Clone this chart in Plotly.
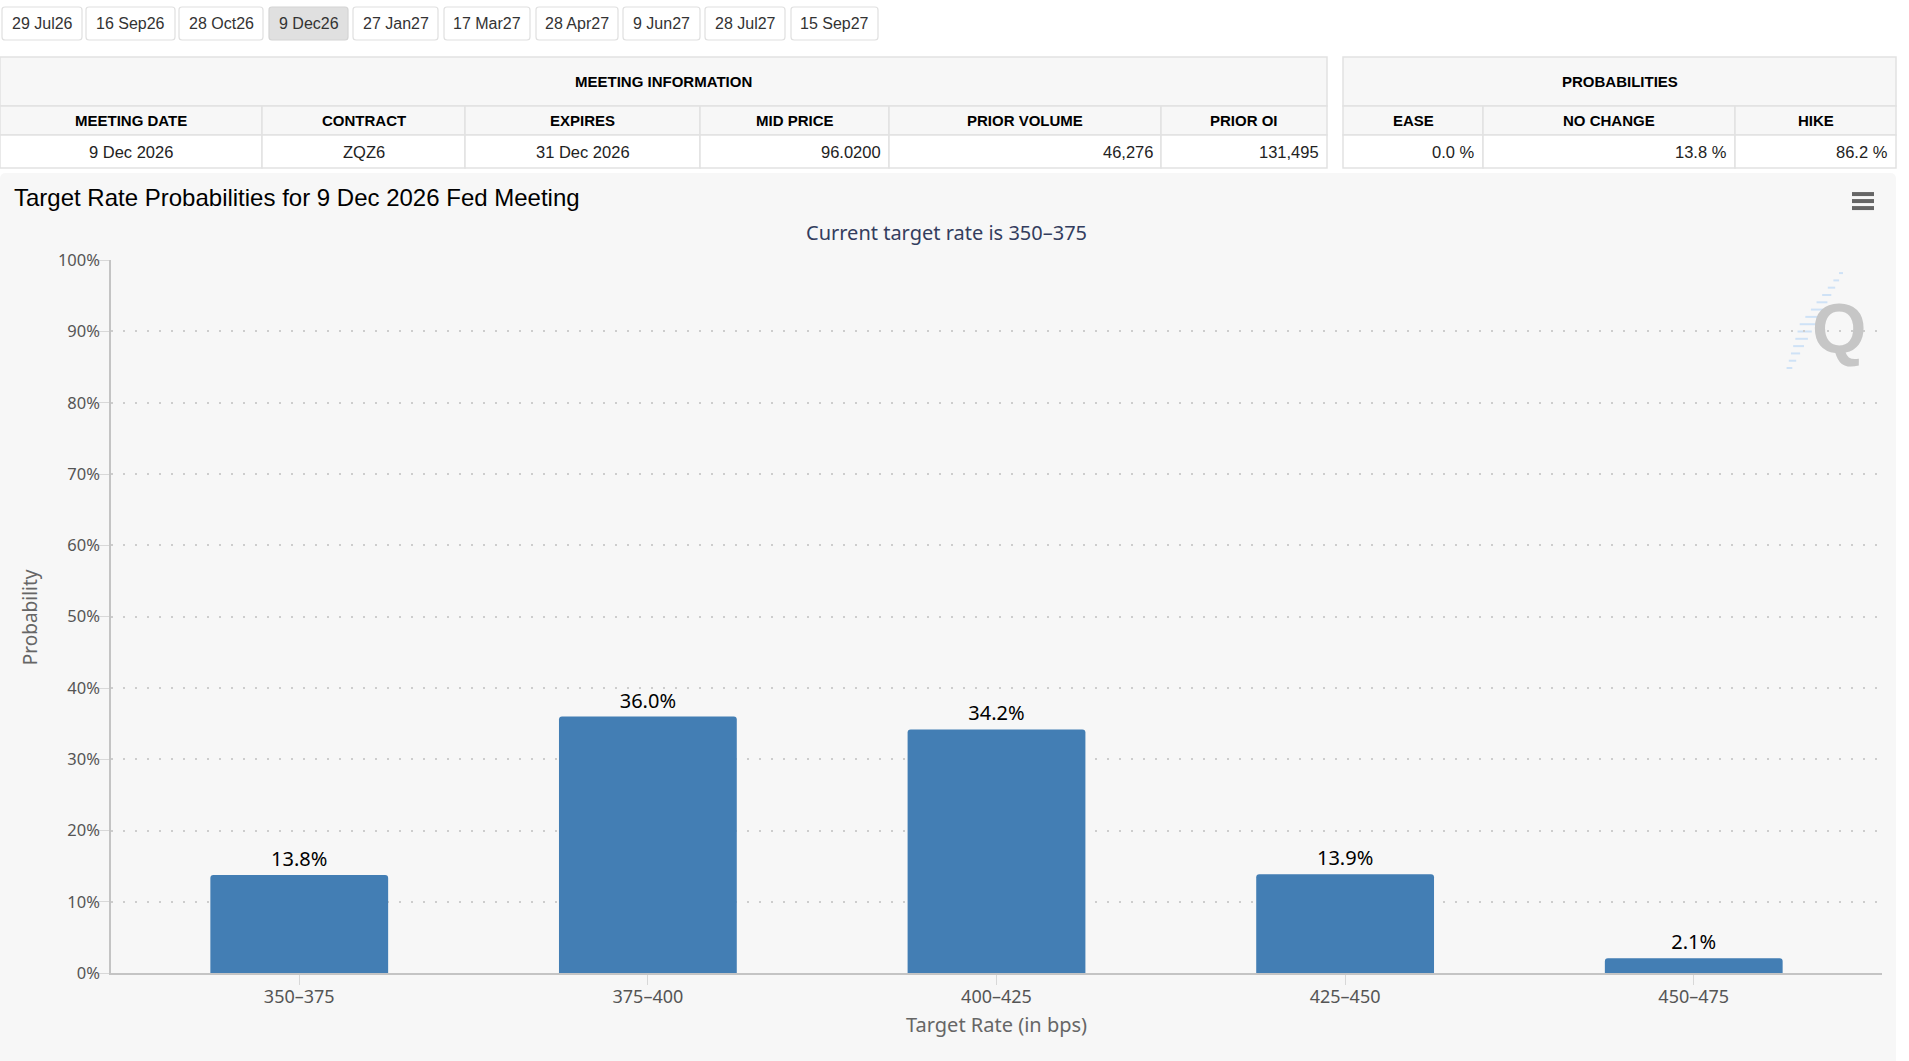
import plotly.graph_objects as go

# meeting tabs
tab_dates = ["29 Jul26", "16 Sep26", "28 Oct26", "9 Dec26", "27 Jan27",
             "17 Mar27", "28 Apr27", "9 Jun27", "28 Jul27", "15 Sep27"]
selected_tab = "9 Dec26"

# meeting information table
meeting_title = "MEETING INFORMATION"
meeting_cols = ["MEETING DATE", "CONTRACT", "EXPIRES", "MID PRICE", "PRIOR VOLUME", "PRIOR OI"]
meeting_vals = ["9 Dec 2026", "ZQZ6", "31 Dec 2026", "96.0200", "46,276", "131,495"]

# probabilities table
prob_title = "PROBABILITIES"
prob_cols = ["EASE", "NO CHANGE", "HIKE"]
prob_vals = [0.0, 13.8, 86.2]

# chart data
chart_title = "Target Rate Probabilities for 9 Dec 2026 Fed Meeting"
chart_subtitle = "Current target rate is 350–375"
target_rates = ["350–375", "375–400", "400–425", "425–450", "450–475"]
probabilities = [13.8, 36.0, 34.2, 13.9, 2.1]
y_ticks = [0, 10, 20, 30, 40, 50, 60, 70, 80, 90, 100]

# page layout, in pixels of the screenshot
W, H = 1909, 1061
Y_SCALE, Y_SHIFT = 0.978, 11.0   # how the capture maps page rows to picture rows
tab_x = [(2, 82), (86, 175), (179, 263), (269, 348), (353, 438),
         (444, 530), (536, 618), (623, 700), (705, 785), (791, 878)]
tab_y = (6, 39)
meet_x = [0, 262, 465, 700, 889, 1161, 1327]
meet_align = ["center", "center", "center", "right", "right", "right"]
prob_x = [1343, 1483, 1735, 1896]
row_y = [56, 105, 134, 167]
plot_l, plot_r, plot_t, plot_b = 111, 1882, 259, 972

TABLE_FONT = "Liberation Sans, Arial, sans-serif"
CHART_FONT = "Noto Sans, DejaVu Sans, sans-serif"
BORDER = "#e2e2e2"


def fx(p):
    return p / W


def fy(p):
    return 1 - ((p - Y_SHIFT) / Y_SCALE) / H


def label(x, y, text, font, xanchor="center", **kw):
    return dict(x=fx(x), y=fy(y), xref="paper", yref="paper", text=text,
                showarrow=False, xanchor=xanchor, yanchor="middle", font=font, **kw)


def rounded_rect(x0, y0, x1, y1, r):
    a, b, c, d = fx(x0), fx(x1), fy(y0), fy(y1)
    rx, ry = r / W, r / H
    return (f"M{a + rx},{c} L{b - rx},{c} Q{b},{c} {b},{c - ry} "
            f"L{b},{d + ry} Q{b},{d} {b - rx},{d} L{a + rx},{d} "
            f"Q{a},{d} {a},{d + ry} L{a},{c - ry} Q{a},{c} {a + rx},{c} Z")


shapes = []
annotations = []

# chart panel background
shapes.append(dict(type="path", xref="paper", yref="paper", layer="below",
                   path=rounded_rect(0, 172, 1896, 1090, 6),
                   fillcolor="#f7f7f7", line=dict(width=0)))

# tabs
for (x0, x1), name in zip(tab_x, tab_dates):
    sel = name == selected_tab
    shapes.append(dict(type="path", xref="paper", yref="paper", layer="below",
                       path=rounded_rect(x0, tab_y[0], x1, tab_y[1], 3),
                       fillcolor="#e0e0e0" if sel else "#ffffff",
                       line=dict(color="#d4d4d4" if sel else "#e0e0e0", width=1.2)))
    annotations.append(label((x0 + x1) / 2, (tab_y[0] + tab_y[1]) / 2, name,
                             dict(family=TABLE_FONT, size=16, color="#333333")))


def add_table(xs, title, cols, vals, aligns):
    shapes.append(dict(type="rect", xref="paper", yref="paper", layer="below",
                       x0=fx(xs[0]), x1=fx(xs[-1]), y0=fy(row_y[0]), y1=fy(row_y[1]),
                       fillcolor="#f7f7f7", line=dict(color=BORDER, width=1.5)))
    annotations.append(label((xs[0] + xs[-1]) / 2, (row_y[0] + row_y[1]) / 2,
                             f"<b>{title}</b>",
                             dict(family=TABLE_FONT, size=15, color="#000000")))
    for i, (c, v) in enumerate(zip(cols, vals)):
        x0, x1 = xs[i], xs[i + 1]
        shapes.append(dict(type="rect", xref="paper", yref="paper", layer="below",
                           x0=fx(x0), x1=fx(x1), y0=fy(row_y[1]), y1=fy(row_y[2]),
                           fillcolor="#f7f7f7", line=dict(color=BORDER, width=1.5)))
        shapes.append(dict(type="rect", xref="paper", yref="paper", layer="below",
                           x0=fx(x0), x1=fx(x1), y0=fy(row_y[2]), y1=fy(row_y[3]),
                           fillcolor="#ffffff", line=dict(color=BORDER, width=1.5)))
        annotations.append(label((x0 + x1) / 2, (row_y[1] + row_y[2]) / 2, f"<b>{c}</b>",
                                 dict(family=TABLE_FONT, size=15, color="#000000")))
        if aligns[i] == "right":
            annotations.append(label(x1 - 6, (row_y[2] + row_y[3]) / 2, v,
                                     dict(family=TABLE_FONT, size=16.5, color="#222222"),
                                     xanchor="right"))
        else:
            annotations.append(label((x0 + x1) / 2, (row_y[2] + row_y[3]) / 2, v,
                                     dict(family=TABLE_FONT, size=16.5, color="#222222")))


add_table(meet_x, meeting_title, meeting_cols, meeting_vals, meet_align)
add_table(prob_x, prob_title, prob_cols, [f"{p:.1f} %" for p in prob_vals],
          ["right"] * len(prob_cols))

# chart title / subtitle
annotations.append(label(12, 196, chart_title,
                         dict(family=TABLE_FONT, size=24, color="#000000"), xanchor="left"))
annotations.append(label(946, 231, chart_subtitle,
                         dict(family=CHART_FONT, size=20, color="#333d5e")))

# axis titles
annotations.append(label(30, 616, "Probability",
                         dict(family=CHART_FONT, size=19, color="#666666"), textangle=-90))
annotations.append(label(996, 1023, "Target Rate (in bps)",
                         dict(family=CHART_FONT, size=20, color="#666666")))

# menu icon
for yy in (193, 200, 207):
    shapes.append(dict(type="line", xref="paper", yref="paper",
                       x0=fx(1852), x1=fx(1874), y0=fy(yy), y1=fy(yy),
                       line=dict(color="#666666", width=4)))

# watermark
for k in range(14):
    yy = 272 + k * 7.3
    xr = 1843 - k * 3.9
    ln = 4 + 12 * (1 - abs(k - 7) / 7)
    shapes.append(dict(type="line", xref="paper", yref="paper", layer="below",
                       x0=fx(xr - ln), x1=fx(xr), y0=fy(yy), y1=fy(yy),
                       line=dict(color="#cfe2f6", width=2)))
annotations.append(label(1839, 328, "<b>Q</b>",
                         dict(family=TABLE_FONT, size=70, color="#c6c6c6")))

fig = go.Figure()
fig.add_bar(
    x=target_rates, y=probabilities,
    width=0.51,
    marker=dict(color="#437eb4", line=dict(width=0), cornerradius=3),
    text=[f"{p:.1f}%" for p in probabilities],
    textposition="outside",
    textfont=dict(family=CHART_FONT, size=20, color="#000000"),
    cliponaxis=False,
    hoverinfo="x+y",
)

fig.update_layout(
    width=W, height=H,
    margin=dict(l=0, r=0, t=0, b=0),
    paper_bgcolor="#ffffff",
    plot_bgcolor="rgba(0,0,0,0)",
    showlegend=False,
    shapes=shapes,
    annotations=annotations,
    xaxis=dict(
        domain=[fx(plot_l), fx(plot_r)],
        range=[-0.54, 4.54],
        showgrid=False,
        showline=True, linecolor="#c4c4c4", linewidth=2,
        ticks="outside", ticklen=10, tickcolor="#d8d8d8", tickwidth=1,
        ticklabelstandoff=-4,
        tickfont=dict(family=CHART_FONT, size=18, color="#555555"),
        fixedrange=True,
    ),
    yaxis=dict(
        domain=[fy(plot_b), fy(plot_t)],
        range=[0, 100],
        tickvals=y_ticks,
        ticktext=[f"{t}%" for t in y_ticks],
        showgrid=True, gridcolor="#cdcdcd", gridwidth=2, griddash="2px,10px",
        zeroline=False,
        showline=True, linecolor="#c4c4c4", linewidth=1.5,
        ticks="outside", ticklen=10, tickcolor="#d8d8d8", tickwidth=1,
        ticklabelstandoff=-4,
        tickfont=dict(family=CHART_FONT, size=16.5, color="#555555"),
        fixedrange=True,
    ),
)

fig.write_html("out.html", config={"displayModeBar": False},
               post_script="document.body.style.margin='0';")
